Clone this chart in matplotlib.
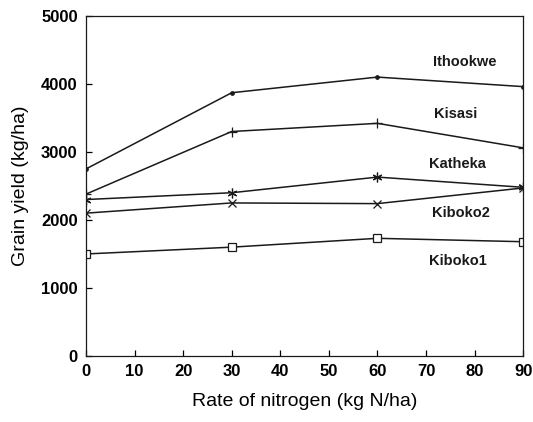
import matplotlib
matplotlib.use("Agg")
import matplotlib.pyplot as plt

nitrogen = [0, 30, 60, 90]
ithookwe = [2750, 3870, 4100, 3960]
kisasi = [2380, 3300, 3420, 3060]
katheka = [2300, 2400, 2630, 2480]
kiboko2 = [2100, 2250, 2240, 2470]
kiboko1 = [1500, 1600, 1730, 1680]

series = [
    ("Ithookwe", ithookwe, dict(marker="o", markersize=2.5)),
    ("Kisasi", kisasi, dict(marker="+", markersize=7)),
    ("Katheka", katheka, dict(marker=(6, 2, 0), markersize=7)),
    ("Kiboko2", kiboko2, dict(marker="x", markersize=6)),
    ("Kiboko1", kiboko1, dict(marker="s", markersize=6, markerfacecolor="white")),
]
label_pos = {
    "Ithookwe": (77.9, 4320),
    "Kisasi": (76.2, 3560),
    "Katheka": (76.5, 2820),
    "Kiboko2": (77.1, 2100),
    "Kiboko1": (76.6, 1400),
}

plt.rcParams["font.family"] = ["Liberation Sans", "DejaVu Sans"]

fig = plt.figure(figsize=(5.33, 4.22), dpi=100)
ax = fig.add_axes([0.1614, 0.1564, 0.820, 0.806])

for name, vals, style in series:
    ax.plot(nitrogen, vals, color="#1a1a1a", linewidth=1.1,
            markeredgewidth=0.9, markeredgecolor="#1a1a1a", **style)
    lx, ly = label_pos[name]
    ax.text(lx, ly, name, ha="center", va="center", fontsize=10.5,
            fontweight="bold", color="#1a1a1a")

ax.set_xlim(0, 90)
ax.set_ylim(0, 5000)
ax.set_xticks(range(0, 91, 10))
ax.set_yticks(range(0, 5001, 1000))
ax.tick_params(direction="in", length=4, width=0.9, labelsize=12)
ax.tick_params(axis="x", pad=6)
ax.tick_params(axis="y", pad=6)
for lab in ax.get_xticklabels() + ax.get_yticklabels():
    lab.set_fontweight("bold")
for sp in ax.spines.values():
    sp.set_linewidth(0.9)
    sp.set_color("#1a1a1a")

ax.set_xlabel("Rate of nitrogen (kg N/ha)", fontsize=14, labelpad=10)
ax.set_ylabel("Grain yield (kg/ha)", fontsize=14, labelpad=9)

fig.savefig("out.png", dpi=100)
